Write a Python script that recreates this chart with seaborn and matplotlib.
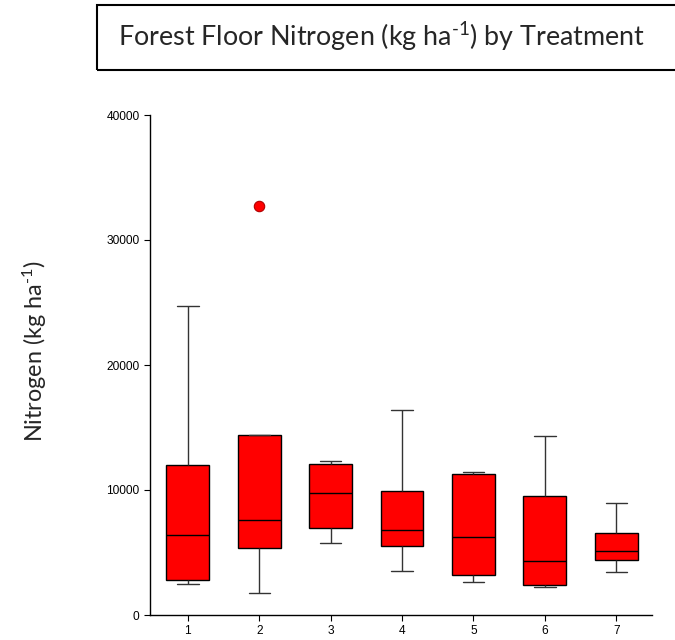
import matplotlib
matplotlib.use("Agg")
import matplotlib.pyplot as plt
import seaborn as sns
import pandas as pd
from matplotlib.patches import Rectangle

# Five-number summaries (kg/ha)
treatments = ["1", "2", "3", "4", "5", "6", "7"]
whisker_low = [2480, 1730, 5730, 3520, 2610, 2210, 3410]
q1 = [2800, 5330, 6930, 5490, 3170, 2370, 4370]
median = [6400, 7570, 9730, 6770, 6240, 4290, 5090]
q3 = [12000, 14400, 12080, 9920, 11250, 9520, 6530]
whisker_high = [24720, 14400, 12320, 16400, 11440, 14320, 8960]
outliers = [[], [32720], [], [], [], [], []]

rows = []
for i, t in enumerate(treatments):
    if outliers[i]:
        vals = [whisker_low[i], q1[i], q1[i], median[i], median[i], q3[i], q3[i], whisker_high[i]] + outliers[i]
    else:
        vals = [whisker_low[i], q1[i], median[i], q3[i], whisker_high[i]]
    for v in vals:
        rows.append({"Treatment": t, "Nitrogen": v})
df = pd.DataFrame(rows)

sns.set_style("ticks")
plt.rcParams["font.family"] = ["Liberation Sans", "DejaVu Sans"]
plt.rcParams["mathtext.fontset"] = "custom"
plt.rcParams["mathtext.rm"] = "Lato"
plt.rcParams["mathtext.it"] = "Lato:italic"
plt.rcParams["mathtext.bf"] = "Lato:bold"

fig = plt.figure(figsize=(6.75, 6.4), dpi=100)
ax = fig.add_axes([150 / 675, 1 - 615 / 640, (652 - 150) / 675, 500 / 640])

sns.boxplot(data=df, x="Treatment", y="Nitrogen", order=treatments, ax=ax,
            color="#ff0000", saturation=1, width=0.6, linecolor="black", linewidth=1,
            whis=1.5,
            flierprops=dict(marker="o", markerfacecolor="#ff0000", markeredgecolor="#b00000",
                            markersize=7.5, markeredgewidth=0.8),
            whiskerprops=dict(color="#333333"), capprops=dict(color="#333333"))

ax.set_ylim(0, 40000)
ax.set_xlim(-0.53, 6.5)
ax.set_yticks([0, 10000, 20000, 30000, 40000])
ax.set_yticklabels(["0", "10000", "20000", "30000", "40000"])
ax.tick_params(axis="both", labelsize=8.6, length=4, width=0.8, colors="black", direction="out")
ax.set_xlabel("")
ax.set_ylabel("")
for s in ["top", "right"]:
    ax.spines[s].set_visible(False)
for s in ["left", "bottom"]:
    ax.spines[s].set_linewidth(1)
    ax.spines[s].set_color("black")

fig.text(35 / 675, 1 - 351 / 640, r"Nitrogen (kg ha$^{\text{-1}}$)", rotation=90, ha="center", va="center",
         fontsize=16.8, family=["Lato", "DejaVu Sans"])

fig.patches.append(Rectangle((97 / 675, 1 - 70 / 640), 0.9, 65 / 640, transform=fig.transFigure,
                             fill=False, edgecolor="black", linewidth=1.5))
fig.text(118 / 675, 1 - 37 / 640, r"Forest Floor Nitrogen (kg ha$^{\text{-1}}$) by Treatment",
         ha="left", va="center", fontsize=19.4, family=["Lato", "DejaVu Sans"])

fig.savefig("out.png", dpi=100)
